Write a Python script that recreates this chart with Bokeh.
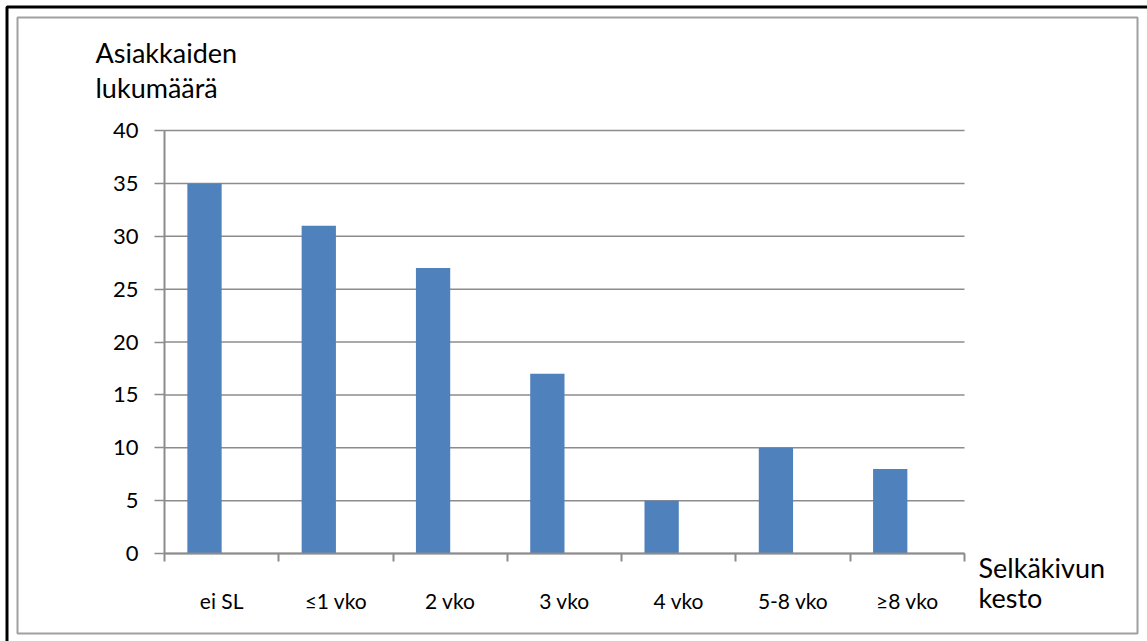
from bokeh.plotting import figure
from bokeh.models import Range1d, FixedTicker, Label, BoxAnnotation
from bokeh.embed import file_html
from bokeh.resources import INLINE

categories = ["ei SL", "≤1 vko", "2 vko", "3 vko", "4 vko", "5-8 vko", "≥8 vko"]
values = [35, 31, 27, 17, 5, 10, 8]
y_ticks = [0, 5, 10, 15, 20, 25, 30, 35, 40]
y_title = ["Asiakkaiden", "lukumäärä"]
x_title = ["Selkäkivun", "kesto"]

FONT = "Lato"
GRAY = "#8C8C8C"
W, H = 1147, 641

n = len(categories)
YMAX = y_ticks[-1]
# plot area (axes box) in canvas pixels
PL, PR, PT, PB = 164, 964, 130, 553
kx = (PR - PL) / n
ky = (PB - PT) / YMAX

# the frame covers the whole canvas; axes are pinned with fixed_location
p = figure(width=W, height=H, output_backend="svg", toolbar_location=None,
           x_range=Range1d(-PL / kx, n + (W - PR) / kx),
           y_range=Range1d(-(H - PB) / ky, YMAX + PT / ky),
           min_border=0, min_border_left=0, min_border_right=0,
           min_border_top=0, min_border_bottom=0)
p.outline_line_color = None
p.background_fill_color = "white"
p.border_fill_color = "white"
p.grid.visible = False

# horizontal gridlines across the plot area only
p.segment(x0=[0] * len(y_ticks), x1=[n] * len(y_ticks), y0=y_ticks, y1=y_ticks,
          line_color=GRAY, line_width=1.5)

centers = [i + 0.5 for i in range(n)]
bar_x = [c - 0.15 for c in centers]
p.vbar(x=bar_x, top=values, width=0.3, fill_color="#4F81BD", line_color=None)

ya = p.yaxis[0]
ya.fixed_location = 0
ya.bounds = (0, YMAX)
ya.ticker = FixedTicker(ticks=y_ticks, minor_ticks=[])
ya.axis_line_color = GRAY
ya.axis_line_width = 2
ya.major_tick_line_color = GRAY
ya.major_tick_line_width = 1.5
ya.major_tick_out = 10
ya.major_tick_in = 0
ya.minor_tick_out = 0
ya.minor_tick_in = 0
ya.major_label_text_font = FONT
ya.major_label_text_font_size = "22px"
ya.major_label_text_color = "black"
ya.major_label_standoff = 16

xa = p.xaxis[0]
xa.fixed_location = 0
xa.bounds = (0, n)
xa.ticker = FixedTicker(ticks=centers, minor_ticks=list(range(n + 1)))
xa.major_label_overrides = {c: lab for c, lab in zip(centers, categories)}
xa.axis_line_color = GRAY
xa.axis_line_width = 2
xa.major_tick_out = 0
xa.major_tick_in = 0
xa.minor_tick_out = 8
xa.minor_tick_in = 0
xa.minor_tick_line_color = GRAY
xa.minor_tick_line_width = 2
xa.major_label_text_font = FONT
xa.major_label_text_font_size = "21px"
xa.major_label_text_color = "black"
xa.major_label_standoff = 26


def sy(cy):
    return H - cy


for txt, (cx, cy) in zip(y_title, [(95, 52), (95, 87)]):
    p.add_layout(Label(x=cx, y=sy(cy), x_units="screen", y_units="screen",
                       text=txt, text_font=FONT, text_font_size="27px",
                       text_color="black", text_baseline="alphabetic"))
for txt, (cx, cy) in zip(x_title, [(978, 567), (978, 597)]):
    p.add_layout(Label(x=cx, y=sy(cy), x_units="screen", y_units="screen",
                       text=txt, text_font=FONT, text_font_size="27px",
                       text_color="black", text_baseline="alphabetic"))

outer = BoxAnnotation(left=6.5, right=1170, top=sy(6.5), bottom=sy(680),
                      left_units="screen", right_units="screen",
                      top_units="screen", bottom_units="screen",
                      fill_alpha=0, line_color="black", line_alpha=1.0,
                      line_width=3)
inner = BoxAnnotation(left=17, right=1137, top=sy(17), bottom=sy(633),
                      left_units="screen", right_units="screen",
                      top_units="screen", bottom_units="screen",
                      fill_alpha=0, line_color="#A0A0A0", line_alpha=1.0,
                      line_width=2)
p.add_layout(outer)
p.add_layout(inner)

open("out.html", "w").write(file_html(p, INLINE))
